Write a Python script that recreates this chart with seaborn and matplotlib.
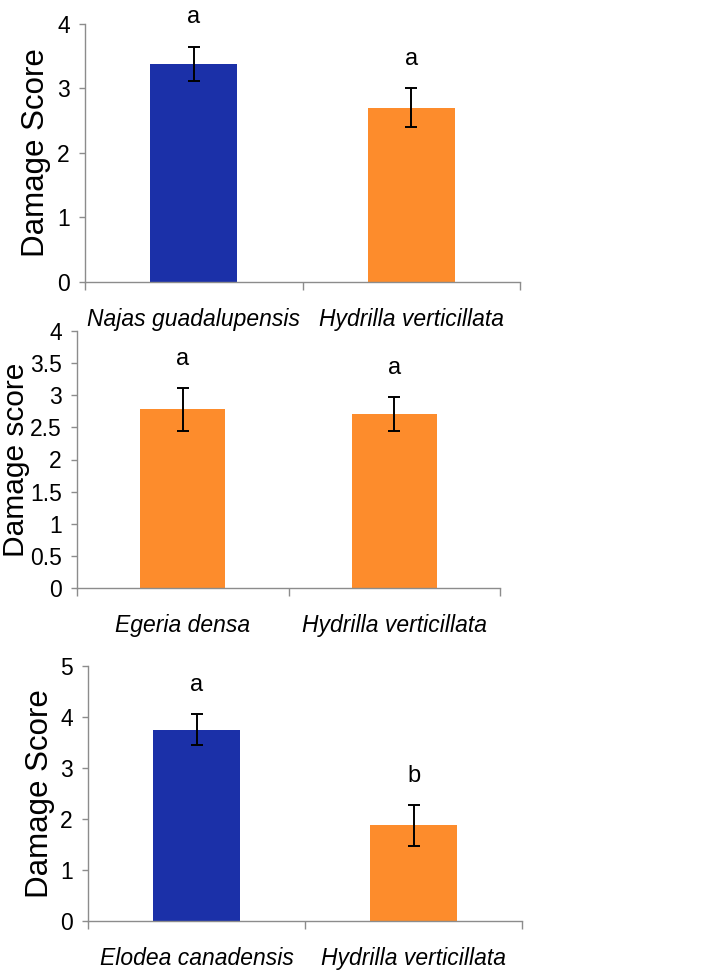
import matplotlib
matplotlib.use("Agg")
import matplotlib.pyplot as plt
import seaborn as sns
import pandas as pd
import numpy as np
from matplotlib.ticker import FixedLocator, FormatStrFormatter

sns.set_style("white")
plt.rcParams['font.family'] = ['Liberation Sans', 'DejaVu Sans']
plt.rcParams['text.color'] = 'black'
plt.rcParams['axes.labelcolor'] = 'black'
plt.rcParams['xtick.color'] = 'black'
plt.rcParams['ytick.color'] = 'black'

# ---- data ----
p1_species = ["Najas guadalupensis", "Hydrilla verticillata"]
p1_means = [3.38, 2.70]
p1_err = [0.27, 0.30]
p1_letters = ["a", "a"]

p2_species = ["Egeria densa", "Hydrilla verticillata"]
p2_means = [2.78, 2.71]
p2_err = [0.33, 0.26]
p2_letters = ["a", "a"]

p3_species = ["Elodea canadensis", "Hydrilla verticillata"]
p3_means = [3.75, 1.88]
p3_err = [0.30, 0.40]
p3_letters = ["a", "b"]

BLUE = "#1B30A8"
ORANGE = "#FD8C2C"

panels = [
    dict(species=p1_species, means=p1_means, err=p1_err, letters=p1_letters,
         colors=[BLUE, ORANGE], ylabel="Damage Score", ymax=4, step=1,
         rect=[85/725, 1-282/976, 435/725, 258/976], labx=-0.078, ylsize=22.5),
    dict(species=p2_species, means=p2_means, err=p2_err, letters=p2_letters,
         colors=[ORANGE, ORANGE], ylabel="Damage score", ymax=4, step=0.5,
         rect=[77/725, 1-588/976, 423/725, 257/976], labx=-0.111, ylsize=21.5),
    dict(species=p3_species, means=p3_means, err=p3_err, letters=p3_letters,
         colors=[BLUE, ORANGE], ylabel="Damage Score", ymax=5, step=1,
         rect=[88/725, 1-921/976, 434/725, 255/976], labx=-0.076, ylsize=22.5),
]

XL, TL, LL = 16.5, 16.5, 17

fig = plt.figure(figsize=(7.25, 9.76), dpi=100)
AX_COLOR = "#8C8C8C"

for p in panels:
    ax = fig.add_axes(p["rect"])
    df = pd.DataFrame({"species": p["species"], "mean": p["means"]})
    sns.barplot(data=df, x="species", y="mean", hue="species",
                palette=dict(zip(p["species"], p["colors"])),
                width=0.4, saturation=1, legend=False, ax=ax,
                edgecolor="none", linewidth=0)
    xs = np.arange(len(p["species"]))
    ax.errorbar(xs, p["means"], yerr=p["err"], fmt="none", ecolor="black",
                elinewidth=1.4, capsize=4, capthick=1.4, zorder=5)
    for x, m, e, lab in zip(xs, p["means"], p["err"], p["letters"]):
        ax.annotate(lab, xy=(x, m + e), xytext=(0, 21), textcoords="offset points",
                    ha="center", va="center", fontsize=LL, color="black")
    ax.set_xlim(-0.5, len(p["species"]) - 0.5)
    ax.set_ylim(0, p["ymax"])
    ax.yaxis.set_major_locator(FixedLocator(np.arange(0, p["ymax"] + 1e-9, p["step"])))
    ax.yaxis.set_major_formatter(FormatStrFormatter("%g"))
    ax.set_xlabel("")
    ax.set_ylabel(p["ylabel"], fontsize=p["ylsize"], color="black")
    ax.yaxis.set_label_coords(p["labx"], 0.5)
    ax.xaxis.set_minor_locator(FixedLocator(np.arange(-0.5, len(p["species"]), 1.0)))
    ax.tick_params(axis="x", which="major", length=0, pad=19, labelsize=XL, labelcolor="black")
    ax.tick_params(axis="x", which="minor", length=6, width=1, color=AX_COLOR, direction="out", bottom=True)
    ax.tick_params(axis="y", which="major", length=4, width=1, color=AX_COLOR, direction="out",
                   left=True, pad=7, labelsize=TL, labelcolor="black")
    for lbl in ax.get_xticklabels():
        lbl.set_fontstyle("italic")
    for s in ["top", "right"]:
        ax.spines[s].set_visible(False)
    for s in ["left", "bottom"]:
        ax.spines[s].set_color(AX_COLOR)
        ax.spines[s].set_linewidth(1)

fig.savefig("out.png", dpi=100)
